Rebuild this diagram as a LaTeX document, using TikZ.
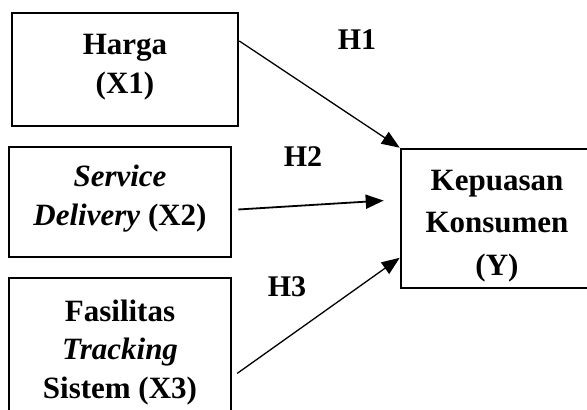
\documentclass[tikz,border=0pt]{standalone}
\usepackage{fontspec}
\setmainfont{Liberation Serif}
\usetikzlibrary{arrows.meta,positioning}
\tikzset{
varbox/.style={rectangle,draw=black,line width=2.6pt,fill=white,align=center,
  font=\fontsize{31}{38.5}\selectfont\bfseries,inner sep=0pt,text depth=0pt},
hyparr/.style={line width=1.3pt,-{Triangle[length=18pt,width=14pt]}},
hyplbl/.style={font=\fontsize{30}{36}\selectfont\bfseries}
}

\begin{document}
\begin{tikzpicture}[x=1pt,y=-1pt]
\useasboundingbox (0,0) rectangle (587,410);
% variabel bebas
\node[varbox,minimum width=226pt,minimum height=113pt,text height=47pt] (x1) at (125,69.5) {Harga\\(X1)};
\node[varbox,minimum width=222pt,minimum height=110pt,text height=46pt] (x2) at (120,202) {\textit{Service}\\\textit{Delivery} (X2)};
\node[varbox,minimum width=222pt,minimum height=150pt,text height=90pt] (x3) at (120,353) {Fasilitas\\\textit{Tracking}\\Sistem (X3)};
% variabel terikat
\node[varbox,minimum width=192pt,minimum height=139pt,text height=113pt,
  font=\fontsize{31}{42.5}\selectfont\bfseries] (y) at (497,218.5) {Kepuasan\\Konsumen\\(Y)};
\node[hyplbl] (h1) at (357,40) {H1};
\node[hyplbl] (h2) at (303,157) {H2};
\node[hyplbl] (h3) at (287,287) {H3};
\draw[hyparr] (x1.14) -- (y.north west);
\draw[hyparr,line width=1.8pt,shorten <=6pt,shorten >=16pt] (x2.-4) -- (y.169);
\draw[hyparr,shorten <=6pt] (x3.-12) -- (y.202);
\end{tikzpicture}
\end{document}
